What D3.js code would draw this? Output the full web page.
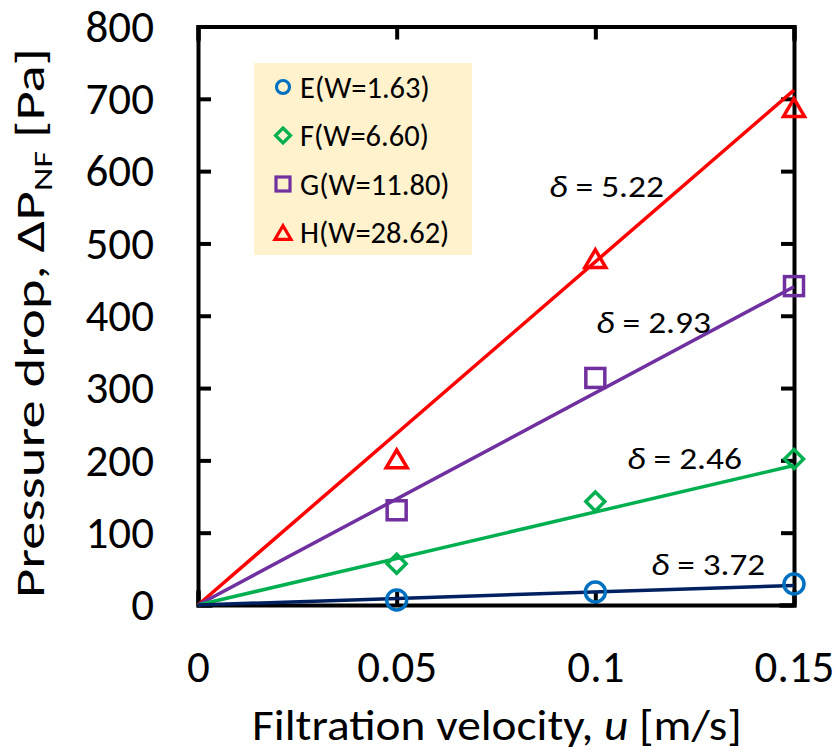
<!DOCTYPE html>
<html><head><meta charset="utf-8">
<script src="https://cdn.jsdelivr.net/npm/d3@7"></script>
<style>
body{margin:0;background:#fff;}
text{font-family:Carlito, Calibri, Lato, sans-serif;fill:#000;}
</style></head>
<body>
<svg id="c" width="839" height="755"></svg>
<script>
// ---- data ----
const velocities = [0.05, 0.1, 0.15];
const seriesNames = ["E(W=1.63)", "F(W=6.60)", "G(W=11.80)", "H(W=28.62)"];
const valuesE = [7, 18, 29];
const valuesF = [57, 143, 202];
const valuesG = [131, 314, 441];
const valuesH = [202, 479, 688];
const fitEndE = 27, fitEndF = 193, fitEndG = 440, fitEndH = 712; // fitted line value at u = 0.15
const deltaLabels = ["5.22", "2.93", "2.46", "3.72"];
const xTicks = [0, 0.05, 0.1, 0.15];
const xTickLabels = ["0", "0.05", "0.1", "0.15"];
const yTicks = [0, 100, 200, 300, 400, 500, 600, 700, 800];

// ---- drawing ----
const svg = d3.select("#c");
const x = d3.scaleLinear().domain([0, 0.15]).range([198, 794]);
const y = d3.scaleLinear().domain([0, 800]).range([605, 26.5]);
const FONT = "Carlito, Calibri, Lato, sans-serif";

const series = [
  {name: seriesNames[0], vals: valuesE, fit: fitEndE, mark: "circle", mc: "#0070C0", lc: "#002060"},
  {name: seriesNames[1], vals: valuesF, fit: fitEndF, mark: "diamond", mc: "#00B050", lc: "#00B050"},
  {name: seriesNames[2], vals: valuesG, fit: fitEndG, mark: "square", mc: "#7030A0", lc: "#7030A0"},
  {name: seriesNames[3], vals: valuesH, fit: fitEndH, mark: "triangle", mc: "#FF0000", lc: "#FF0000"}
];

// helper: stretch a text horizontally (in its own direction) to a target width
function stretchTo(t, target, base){
  const w = t.node().getBBox().width;
  const s = target / w;
  t.attr("transform", base + ` scale(${s},1)`);
}

// axes (frame with inward ticks)
const tickLen = 13;
const gAx = svg.append("g");
gAx.append("g").attr("transform", `translate(0,${y(0)})`)
  .call(d3.axisBottom(x).tickValues(xTicks).tickSize(-tickLen).tickFormat((d,i)=>xTickLabels[i]))
  .call(g=>g.selectAll("text").attr("font-size", 45).attr("y", 77).attr("dy", 0));
gAx.append("g").attr("transform", `translate(0,${y(800)})`)
  .call(d3.axisTop(x).tickValues(xTicks).tickSize(-tickLen).tickFormat(""));
gAx.append("g").attr("transform", `translate(${x(0)},0)`)
  .call(d3.axisLeft(y).tickValues(yTicks).tickSize(-tickLen).tickFormat(d3.format("d")).tickPadding(44))
  .call(g=>g.selectAll("text").attr("font-size", 45).attr("dy","0.33em"));
gAx.append("g").attr("transform", `translate(${x(0.15)},0)`)
  .call(d3.axisRight(y).tickValues(yTicks).tickSize(-tickLen).tickFormat(""));
gAx.selectAll(".domain").attr("stroke","#000").attr("stroke-width",4).attr("stroke-linecap","square");
gAx.selectAll(".tick line").attr("stroke","#000").attr("stroke-width",4);
gAx.selectAll("text").attr("font-family",FONT).attr("fill","#000");

// fit lines
const line = d3.line().x(d=>x(d[0])).y(d=>y(d[1]));
series.slice().reverse().forEach(s=>{
  svg.append("path").attr("d", line([[0,0],[0.15,s.fit]]))
    .attr("stroke", s.lc).attr("stroke-width", 3.5).attr("fill","none");
});

// markers
function marker(g, type, cx, cy, sz, color, sw){
  if(type==="circle"){
    g.append("circle").attr("cx",cx).attr("cy",cy).attr("r",sz).attr("fill","none").attr("stroke",color).attr("stroke-width",sw);
  } else if(type==="diamond"){
    g.append("path").attr("d",`M${cx},${cy-sz}L${cx+sz},${cy}L${cx},${cy+sz}L${cx-sz},${cy}Z`).attr("fill","none").attr("stroke",color).attr("stroke-width",sw);
  } else if(type==="square"){
    g.append("rect").attr("x",cx-sz).attr("y",cy-sz).attr("width",2*sz).attr("height",2*sz).attr("fill","none").attr("stroke",color).attr("stroke-width",sw);
  } else {
    g.append("path").attr("d",`M${cx},${cy-sz*0.85}L${cx+sz},${cy+sz*0.85}L${cx-sz},${cy+sz*0.85}Z`).attr("fill","none").attr("stroke",color).attr("stroke-width",sw).attr("stroke-linejoin","miter");
  }
}
const gm = svg.append("g");
const mSize = {circle:10, diamond:9.5, square:9.5, triangle:10.5};
series.forEach(s=>{
  s.vals.forEach((v,i)=> marker(gm, s.mark, x(velocities[i]), y(v), mSize[s.mark], s.mc, 3.5));
});

// delta annotations: [left x, baseline y, width]
const annPos = [[549,197,115],[596,333,115],[627,469,115],[651,575,114]];
deltaLabels.forEach((lab,i)=>{
  const t = svg.append("text").attr("font-size",31);
  t.append("tspan").attr("font-style","italic").text("δ");
  t.append("tspan").text(" = " + lab);
  stretchTo(t, annPos[i][2], `translate(${annPos[i][0]},${annPos[i][1]})`);
});

// legend
const lg = svg.append("g");
lg.append("rect").attr("x",254).attr("y",63).attr("width",218).attr("height",192).attr("fill","#FFF2CC");
const lSize = {circle:6.5, diamond:7.5, square:7, triangle:8};
series.forEach((s,i)=>{
  const cy = 87 + i*48.5;
  marker(lg, s.mark, 283, cy, lSize[s.mark], s.mc, 3.2);
  lg.append("text").attr("x",300).attr("y",cy).attr("dy","0.35em").attr("font-size",30.5).text(s.name);
});

// axis titles
const xt = svg.append("text").attr("text-anchor","start").attr("font-size",44)
  .call(t=>{t.append("tspan").text("Filtration velocity, ");
            t.append("tspan").attr("font-style","italic").text("u");
            t.append("tspan").text(" [m/s]");});
stretchTo(xt, 490, "translate(252,740)");
const yt = svg.append("text").attr("text-anchor","middle").attr("font-size",40)
  .call(t=>{t.append("tspan").text("Pressure drop, ΔP");
            t.append("tspan").attr("font-size",26).attr("dy",8).text("NF");
            t.append("tspan").attr("dy",-8).text(" [Pa]");});
stretchTo(yt, 550, "translate(44,323) rotate(-90)");
</script>
</body></html>
